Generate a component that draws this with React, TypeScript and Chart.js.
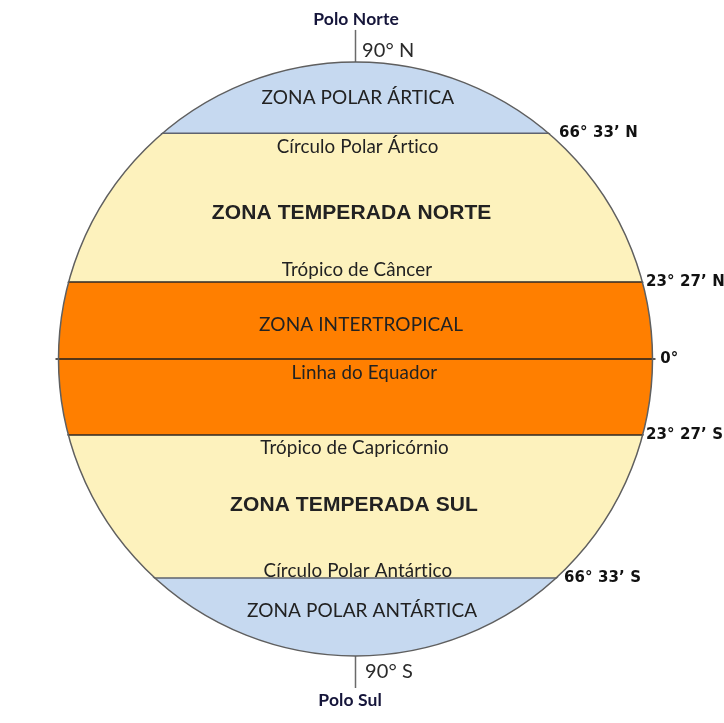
import React, { useEffect, useRef } from "react";
import { Chart, registerables } from "chart.js";

// ---- Data (diagram units: globe radius = 1, centre = 0) ----
const bandTop = [1, 0.76, 0.259, -0.256, -0.737];
const bandBottom = [0.76, 0.259, -0.256, -0.737, -1];

const zoneLabels = ["ZONA POLAR ÁRTICA", "ZONA TEMPERADA NORTE", "ZONA INTERTROPICAL", "ZONA TEMPERADA SUL", "ZONA POLAR ANTÁRTICA"];
const zoneLabelX = [0.008, -0.013, 0.019, -0.005, 0.022];
const zoneLabelY = [0.879, 0.492, 0.114, -0.492, -0.848];

const lineNames = ["Círculo Polar Ártico", "Trópico de Câncer", "Linha do Equador", "Trópico de Capricórnio", "Círculo Polar Antártico"];
const lineNameX = [0.007, 0.005, 0.03, -0.003, 0.008];
const lineNameY = [0.714, 0.3, -0.047, -0.3, -0.714];

const boundaryLat = [0.76, 0.259, 0, -0.256, -0.737];
const boundaryLabels = ["66° 33’ N", "23° 27’ N", "0°", "23° 27’ S", "66° 33’ S"];
const boundaryLabelX = [0.685, 0.978, 1.026, 0.978, 0.702];

const poleTickEnd = [1.108, -1.108];
const poleDegLabels = ["90° N", "90° S"];
const poleDegX = [0.022, 0.032];
const poleDegY = [1.04, -1.054];
const poleNames = ["Polo Norte", "Polo Sul"];
const poleNameX = [0.002, -0.018];
const poleNameY = [1.145, -1.148];

// ---- Styles ----
const bandColors = ["#c6d9f0", "#fdf2bd", "#ff7f00", "#fdf2bd", "#c6d9f0"];
const boundaryColors = ["#5e636e", "#2e2a26", "#1e1e1e", "#2e2a26", "#5e636e"];
const zoneFonts = ['19px Lato', 'bold 21px "Liberation Sans"', '19px Lato', 'bold 21px "Liberation Sans"', '19px Lato'];

const circleClip = {
  id: "circleClip",
  beforeDatasetDraw(chart: any, args: any) {
    const ds = chart.data.datasets[args.index];
    if (!ds.clipToGlobe) return;
    const xs = chart.scales.x, ys = chart.scales.y;
    const cx = xs.getPixelForValue(0), cy = ys.getPixelForValue(0);
    const r = xs.getPixelForValue(1) - cx + (ds.clipPad || 0);
    const ctx = chart.ctx;
    ctx.save();
    ctx.beginPath();
    ctx.arc(cx, cy, r, 0, Math.PI * 2);
    ctx.clip();
  },
  afterDatasetDraw(chart: any, args: any) {
    const ds = chart.data.datasets[args.index];
    if (!ds.clipToGlobe) return;
    chart.ctx.restore();
  },
};
Chart.register(circleClip);
Chart.register(...registerables);

const labelsPlugin = {
  id: "globeLabels",
  afterDraw(chart: any) {
    const ctx = chart.ctx;
    const xs = chart.scales.x, ys = chart.scales.y;
    const px = (v: number) => xs.getPixelForValue(v);
    const py = (v: number) => ys.getPixelForValue(v);
    ctx.save();
    ctx.textBaseline = "middle";
    try { (ctx as any).letterSpacing = "0.1px"; } catch (e) {}
    // zone names
    ctx.textAlign = "center";
    zoneLabels.forEach((t, i) => {
      ctx.font = zoneFonts[i];
      ctx.fillStyle = "#222";
      ctx.fillText(t, px(zoneLabelX[i]), py(zoneLabelY[i]));
    });
    // line names
    ctx.font = "18.8px Lato";
    ctx.fillStyle = "#222";
    lineNames.forEach((t, i) => ctx.fillText(t, px(lineNameX[i]), py(lineNameY[i])));
    // boundary degree labels
    ctx.textAlign = "left";
    ctx.font = 'bold 15px "DejaVu Sans"';
    ctx.fillStyle = "#111";
    boundaryLabels.forEach((t, i) => ctx.fillText(t, px(boundaryLabelX[i]), py(boundaryLat[i])));
    // pole degree labels
    ctx.font = "20px Lato";
    ctx.fillStyle = "#2a2a2a";
    poleDegLabels.forEach((t, i) => ctx.fillText(t, px(poleDegX[i]), py(poleDegY[i])));
    // pole names
    ctx.textAlign = "center";
    ctx.font = "bold 17.5px Lato";
    ctx.fillStyle = "#15153a";
    poleNames.forEach((t, i) => ctx.fillText(t, px(poleNameX[i]), py(poleNameY[i])));
    ctx.restore();
  },
};

export default function App() {
  const ref = useRef<HTMLCanvasElement | null>(null);
  useEffect(() => {
    if (!ref.current) return;
    const datasets: any[] = [];
    // globe outline (drawn on top)
    datasets.push({
      data: [{ x: 0, y: 0 }],
      showLine: false,
      pointRadius: (c: any) => {
        const s = c.chart.scales.x;
        return (s.getPixelForValue(1) - s.getPixelForValue(-1)) / 2;
      },
      pointBackgroundColor: "rgba(0,0,0,0)",
      pointBorderColor: "#5f5f5f",
      pointBorderWidth: 1.5,
      clip: false,
    });
    // pole ticks
    poleTickEnd.forEach((e) => {
      datasets.push({
        data: [{ x: 0, y: Math.sign(e) }, { x: 0, y: e }],
        borderColor: "#6a6a6a",
        borderWidth: 1.5,
        pointRadius: 0,
        clip: false,
      });
    });
    // boundary lines
    boundaryLat.forEach((lat, i) => {
      datasets.push({
        data: [{ x: -1.02, y: lat }, { x: 1.02, y: lat }],
        borderColor: boundaryColors[i],
        borderWidth: 1.5,
        pointRadius: 0,
        clip: false,
        clipToGlobe: true,
        clipPad: i === 2 ? 3 : 1,
      });
    });
    // bands
    bandTop.forEach((top, i) => {
      datasets.push({
        data: [{ x: -1, y: top }, { x: 1, y: top }],
        borderWidth: 0,
        borderColor: "rgba(0,0,0,0)",
        backgroundColor: bandColors[i],
        fill: { value: bandBottom[i] },
        pointRadius: 0,
        clipToGlobe: true,
      });
    });
    const chart = new Chart(ref.current, {
      type: "line",
      data: { datasets },
      options: {
        animation: false,
        responsive: false,
        devicePixelRatio: 1,
        events: [],
        layout: { padding: { left: 58.5, right: 71.5, top: 62, bottom: 67 } },
        scales: {
          x: { type: "linear", min: -1, max: 1, display: false },
          y: { type: "linear", min: -1, max: 1, display: false },
        },
        plugins: { legend: { display: false }, tooltip: { enabled: false } },
      } as any,
      plugins: [labelsPlugin],
    });
    return () => chart.destroy();
  }, []);
  return (
    <div style={{ position: "fixed", left: 0, top: 0, width: 724, height: 723, background: "#fff" }}>
      <canvas ref={ref} width={724} height={723} style={{ width: 724, height: 723, display: "block" }} />
    </div>
  );
}
